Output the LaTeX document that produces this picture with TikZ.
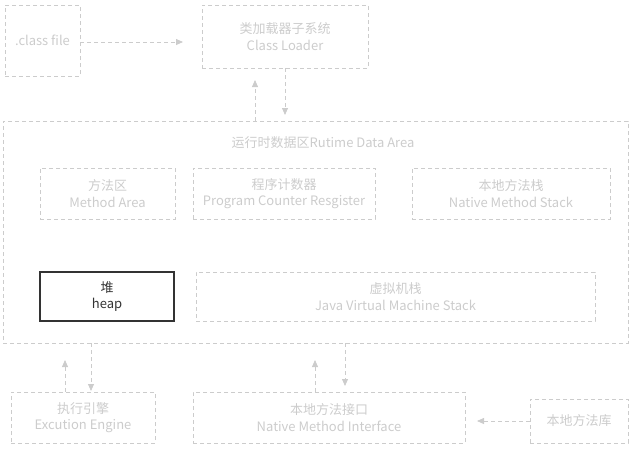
\documentclass[tikz,border=0pt]{standalone}
\usepackage{fontspec}
\setmainfont{Noto Sans CJK SC}
\usetikzlibrary{arrows.meta}
\definecolor{lg}{HTML}{CCCCCC}
\definecolor{dk}{HTML}{333333}
\begin{document}
\begin{tikzpicture}[x=1pt,y=-1pt,
  box/.style={draw=lg,dash pattern=on 4pt off 3pt,line width=0.8pt,text=lg,inner sep=0pt,align=center,font=\fontsize{13}{16.5}\selectfont},
  conn/.style={draw=lg,dash pattern=on 4pt off 3pt,line width=0.8pt,-{Triangle[length=7pt,width=6pt]}},
]
\useasboundingbox (0,0) rectangle (635,451);
\node[box,minimum width=75pt,minimum height=71pt] (cls) at (42.5,40.5) {.class file};
\node[box,minimum width=166pt,minimum height=63pt] (loader) at (285,36.5) {类加载器子系统\\Class Loader};
\node[box,minimum width=625pt,minimum height=222pt] (rt) at (315.5,232) {};
\node[text=lg,font=\fontsize{13}{16.5}\selectfont,inner sep=0pt] (title) at (323,143) {运行时数据区Rutime Data Area};
\node[box,minimum width=135pt,minimum height=51pt] (ma) at (107.5,193.5) {方法区\\Method Area};
\node[box,minimum width=182pt,minimum height=51pt] (pc) at (284,193.5) {程序计数器\\Program Counter Resgister};
\node[box,minimum width=198pt,minimum height=51pt] (nms) at (511,193.5) {本地方法栈\\Native Method Stack};
\node[box,solid,draw=dk,line width=1.5pt,text=dk,minimum width=134pt,minimum height=49pt] (heap) at (107,296.5) {堆\\heap};
\node[box,minimum width=399pt,minimum height=49pt] (jvm) at (395.5,296.5) {虚拟机栈\\Java Virtual Machine Stack};
\node[box,minimum width=144pt,minimum height=51pt] (ee) at (83,417.5) {执行引擎\\Excution Engine};
\node[box,minimum width=272pt,minimum height=51pt] (nmi) at (329,417.5) {本地方法接口\\Native Method Interface};
\node[box,minimum width=98pt,minimum height=44pt] (lib) at (579,421) {本地方法库};
% connectors
\coordinate (t1) at (183,42);
\draw[conn] (cls.east |- t1) -- (t1);
\coordinate (t2) at (255,80);
\draw[conn] (rt.north -| t2) -- (t2);
\coordinate (t3) at (285,115);
\draw[conn] (loader.south -| t3) -- (t3);
\coordinate (t4) at (65,360);
\draw[conn] (ee.north -| t4) -- (t4);
\coordinate (t5) at (91,391);
\draw[conn] (rt.south -| t5) -- (t5);
\coordinate (t6) at (315,360);
\draw[conn] (nmi.north -| t6) -- (t6);
\coordinate (t7) at (345,386);
\draw[conn] (rt.south -| t7) -- (t7);
\coordinate (t8) at (477,421);
\draw[conn] (lib.west |- t8) -- (t8);
\end{tikzpicture}
\end{document}
